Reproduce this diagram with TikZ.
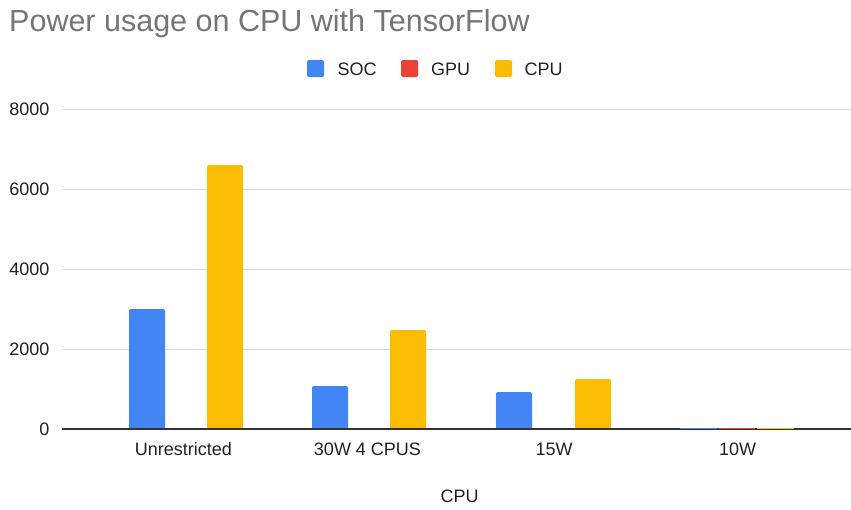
\documentclass[tikz,border=0pt]{standalone}
\usepackage{fontspec}
\setmainfont{Liberation Sans}
\definecolor{socblue}{HTML}{4285F4}
\definecolor{gpured}{HTML}{EA4335}
\definecolor{cpuyellow}{HTML}{FBBC04}
\definecolor{gridgray}{HTML}{D9D9D9}
\definecolor{axisdark}{HTML}{333333}
\definecolor{titlegray}{HTML}{757575}
\definecolor{labeldark}{HTML}{222222}
\newcommand\chartbar[4]{%
  \fill[#4,rounded corners=2pt] (#1,#3) rectangle (#2,429);
  \fill[#4] (#1,{#3+3}) rectangle (#2,429);}
\begin{document}
\begin{tikzpicture}[x=1pt,y=-1pt,
  gridline/.style={draw=gridgray,line width=1pt},
  baseline/.style={draw=axisdark,line width=1.3pt},
  ylab/.style={anchor=east,inner sep=0pt,text=labeldark,font=\fontsize{18}{20}\selectfont},
  xlab/.style={anchor=center,inner sep=0pt,text=labeldark,font=\fontsize{18}{20}\selectfont},
  legtext/.style={anchor=west,inner sep=0pt,text=labeldark,font=\fontsize{18}{20}\selectfont},
  legsq/.style={minimum size=17pt,inner sep=0pt,rounded corners=1.5pt}]
\useasboundingbox (0,0) rectangle (851,509);
\fill[white] (0,0) rectangle (851,509);
% title
\node[anchor=west,inner sep=0pt,text=titlegray,font=\fontsize{30.5}{32}\selectfont] (title) at (9,23.5) {Power usage on CPU with TensorFlow};
% legend
\node[legsq,fill=socblue] (lsoc) at (315.5,68.5) {};
\node[legtext] (tsoc) at (337.5,69) {SOC};
\node[legsq,fill=gpured] (lgpu) at (409.5,68.5) {};
\node[legtext] (tgpu) at (431,69) {GPU};
\node[legsq,fill=cpuyellow] (lcpu) at (503.5,68.5) {};
\node[legtext] (tcpu) at (524.5,69) {CPU};
% grid
\foreach \yy/\lab in {109/8000,189/6000,269/4000,349/2000}{
  \draw[gridline] (62,\yy) -- (851,\yy);
  \node[ylab] (y\lab) at (49.5,\yy) {\lab};
}
\node[ylab] (y0) at (49.5,429) {0};
% bars
\chartbar{129}{165}{309}{socblue}
\chartbar{207}{243}{165}{cpuyellow}
\chartbar{312}{348}{386}{socblue}
\chartbar{390}{426}{330}{cpuyellow}
\chartbar{496}{532}{392}{socblue}
\chartbar{575}{611}{379}{cpuyellow}
\draw[baseline] (62,429) -- (851,429);
\fill[socblue] (679.5,427.7) rectangle (716.5,429.3);
\fill[gpured] (718,427.7) rectangle (755,429.3);
\fill[cpuyellow] (756.5,427.7) rectangle (793.5,429.3);
% category labels
\node[xlab] (c1) at (183.5,449) {Unrestricted};
\node[xlab] (c2) at (367.5,449) {30W 4 CPUS};
\node[xlab] (c3) at (554,449) {15W};
\node[xlab] (c4) at (737.5,449) {10W};
\node[xlab] (axtitle) at (459.5,496.5) {CPU};
\end{tikzpicture}
\end{document}
